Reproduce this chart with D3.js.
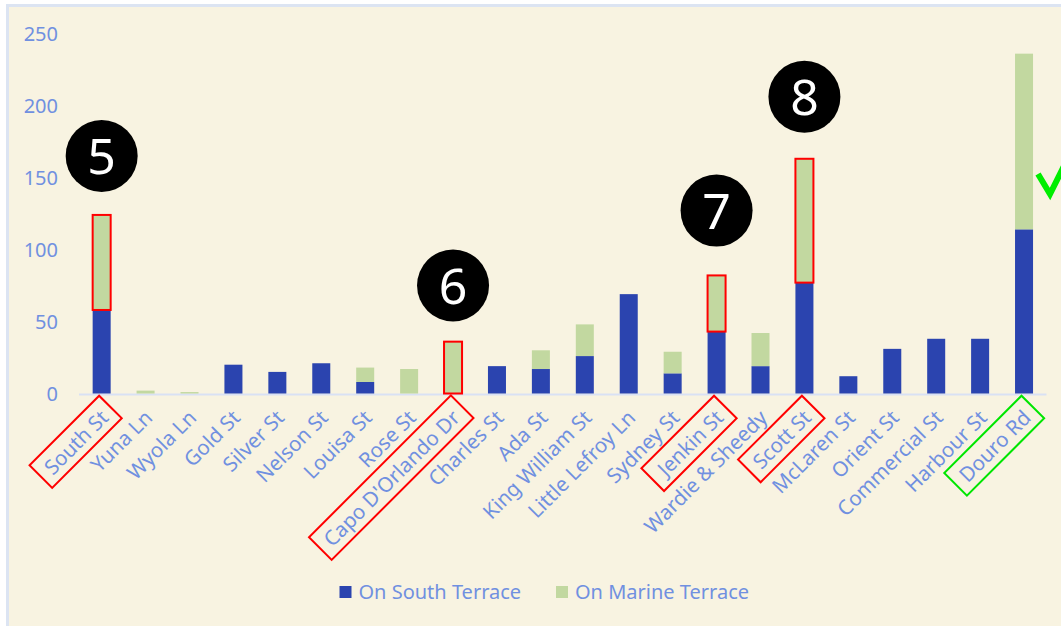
<!DOCTYPE html>
<html><head><meta charset="utf-8">
<script src="https://cdn.jsdelivr.net/npm/d3@7"></script>
<style>
html,body{margin:0;padding:0;background:#fff;}
svg{display:block;font-family:"Noto Sans",sans-serif;}
</style></head>
<body>
<svg id="c" width="1061" height="626"></svg>
<script>
const categories = ["South St","Yuna Ln","Wyola Ln","Gold St","Silver St","Nelson St","Louisa St","Rose St","Capo D'Orlando Dr","Charles St","Ada St","King William St","Little Lefroy Ln","Sydney St","Jenkin St","Wardie & Sheedy","Scott St","McLaren St","Orient St","Commercial St","Harbour St","Douro Rd"];
const southTerrace = [58,0,0,20,15,21,8,0,0,19,17,26,69,14,43,19,77,12,31,38,38,114];
const marineTerrace = [66,2,1,0,0,0,10,17,36,0,13,22,0,15,39,23,86,0,0,0,0,122];
const yTicks = [0,50,100,150,200,250];
const seriesNames = ["On South Terrace","On Marine Terrace"];
const redFlagged = ["South St","Capo D'Orlando Dr","Jenkin St","Scott St"];
const greenFlagged = ["Douro Rd"];
const callouts = [{cat:"South St",label:"5",v:165},{cat:"Capo D'Orlando Dr",label:"6",v:75},{cat:"Jenkin St",label:"7",v:127},{cat:"Scott St",label:"8",v:206}];

const colBlue = "#2B44AF", colGreen = "#C2D8A0", textCol = "#7090E0";
const svg = d3.select("#c");
// frame
svg.append("rect").attr("x",7.5).attr("y",5.5).attr("width",1070).attr("height",640)
  .attr("fill","#F8F3E1").attr("stroke","#DCE4F2").attr("stroke-width",3);

const x = d3.scaleBand().domain(categories).range([79.7,1046]).paddingInner(0.59).paddingOuter(0.295);
const y = d3.scaleLinear().domain([0,250]).range([393.5,33.5]);

// y tick labels
svg.append("g").selectAll("text").data(yTicks).join("text")
  .attr("x",58).attr("y",d=>y(d)).attr("dy","0.36em").attr("text-anchor","end")
  .attr("fill",textCol).attr("font-size",20).text(d=>d);

// axis line
svg.append("line").attr("x1",79).attr("x2",1046.5).attr("y1",y(0)+1).attr("y2",y(0)+1)
  .attr("stroke","#D9E1F4").attr("stroke-width",2);

const rows = categories.map((c,i)=>({c, s:southTerrace[i], m:marineTerrace[i]}));
const stack = d3.stack().keys(["s","m"])(rows);
const colors = [colBlue,colGreen];
svg.append("g").selectAll("g").data(stack).join("g").attr("fill",(d,i)=>colors[i])
  .selectAll("rect").data(d=>d).join("rect")
  .attr("x",d=>x(d.data.c)).attr("width",x.bandwidth())
  .attr("y",d=>y(d[1])).attr("height",d=>y(d[0])-y(d[1]));

// red boxes around marine segments
stack[1].filter(d=>redFlagged.includes(d.data.c)).forEach(d=>{
  svg.append("rect").attr("x",x(d.data.c)).attr("y",y(d[1])).attr("width",x.bandwidth())
    .attr("height",y(d[0])-y(d[1])).attr("fill","none").attr("stroke","#FF0000").attr("stroke-width",2);
});

// x labels
const lab = svg.append("g").selectAll("g").data(categories).join("g")
  .attr("transform",d=>`translate(${x(d)+x.bandwidth()/2+3},${414}) rotate(-45)`);
lab.append("text").attr("text-anchor","end").attr("dy","0.35em")
  .attr("fill",textCol).attr("font-size",20.5).text(d=>d);
lab.each(function(d){
  const flagged = redFlagged.includes(d) ? "#FF0000" : (greenFlagged.includes(d) ? "#00E600" : null);
  if(!flagged) return;
  const bb = d3.select(this).select("text").node().getBBox();
  d3.select(this).insert("rect","text").attr("x",bb.x-9).attr("y",bb.y-2)
    .attr("width",bb.width+18).attr("height",bb.height+4)
    .attr("fill","none").attr("stroke",flagged).attr("stroke-width",2);
});

// callouts
const cg = svg.append("g").selectAll("g").data(callouts).join("g")
  .attr("transform",d=>`translate(${x(d.cat)+x.bandwidth()/2},${y(d.v)})`);
cg.append("circle").attr("r",36).attr("fill","#000");
cg.append("text").attr("text-anchor","middle").attr("dy","0.36em").attr("fill","#fff")
  .attr("font-size",50).text(d=>d.label);

// check mark
svg.append("path").attr("d","M1038,174 L1050,194 L1066,162").attr("fill","none")
  .attr("stroke","#00EE00").attr("stroke-width",6);

// legend
const lg = svg.append("g").selectAll("g").data(seriesNames).join("g")
  .attr("transform",(d,i)=>`translate(${i===0?339.5:556},586)`);
lg.append("rect").attr("width",12).attr("height",12).attr("fill",(d,i)=>colors[i]);
lg.append("text").attr("x",19).attr("y",6).attr("dy","0.36em").attr("fill",textCol)
  .attr("font-size",20).text(d=>d);
</script>
</body></html>
